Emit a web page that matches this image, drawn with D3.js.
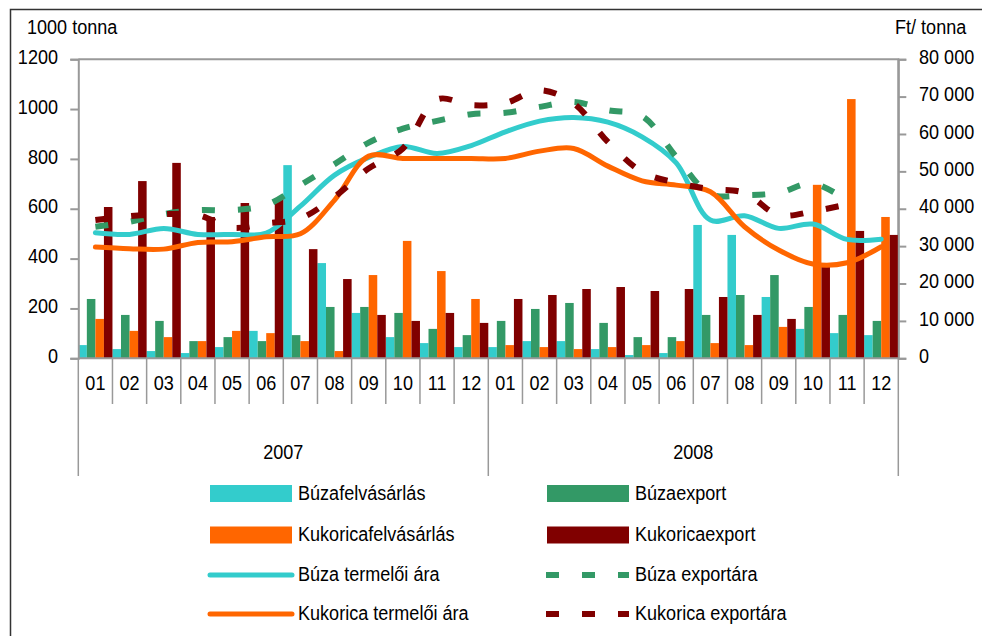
<!DOCTYPE html>
<html>
<head>
<meta charset="utf-8">
<script src="https://cdn.jsdelivr.net/npm/d3@7"></script>
<style>
  html, body { margin: 0; padding: 0; background: #fff; }
  svg { display: block; }
  text { font-family: "Liberation Sans", Arial, sans-serif; font-size: 21px; fill: #000; }
</style>
</head>
<body>
<svg id="chart" width="982" height="636"></svg>
<script>
// ---------- data ----------
const months = ["01","02","03","04","05","06","07","08","09","10","11","12"];
const years = ["2007","2008"];
const leftTicks = [0, 200, 400, 600, 800, 1000, 1200];
const rightTicks = [0, 10000, 20000, 30000, 40000, 50000, 60000, 70000, 80000];
const leftUnit = "1000 tonna";
const rightUnit = "Ft/ tonna";

// bars (1000 tonna)
const buzaFelvasarlas = [53,37,29,21,45,110,775,382,182,85,61,45, 45,69,69,37,13,21,535,495,246,118,101,93];
const buzaExport      = [238,174,150,69,85,69,93,206,206,182,118,93, 150,198,222,142,85,85,174,254,334,206,174,150];
const kukFelvasarlas  = [158,110,85,69,110,101,69,29,334,471,350,238, 53,45,37,45,53,69,61,53,126,696,1040,567];
const kukExport       = [607,711,784,567,623,639,438,318,174,150,182,142, 238,254,278,286,270,278,246,174,158,367,511,495];

// lines (Ft/tonna)
const buzaTermeloiAra = [33570,33140,34750,33140,33140,33500,40710,49000,53730,56670,54800,56900, 60570,63430,64420,63160,59240,52290,36970,38120,34750,35900,31810,31870];
const kukTermeloiAra  = [29750,29300,29200,31000,31180,32500,33300,42330,54080,53460,53460,53460, 53460,55410,56130,51400,47470,46320,44530,35180,28950,25210,25550,29830];
const buzaExportAra   = [35180,36510,38570,39640,39640,40980,46320,51930,57690,61430,63510,65300, 65650,67250,68590,66370,64800,53890,43920,43650,44260,46780,42130,null];
const kukExportAra    = [36970,38040,38570,38300,34910,36080,37420,43200,50790,56130,69230,67700, 68300,71710,68160,57900,49880,46940,45250,44260,38320,39290,41160,null];

const barSeries = [
  {name: "Búzafelvásárlás", values: buzaFelvasarlas, color: "#33CCCC"},
  {name: "Búzaexport", values: buzaExport, color: "#339966"},
  {name: "Kukoricafelvásárlás", values: kukFelvasarlas, color: "#FF6600"},
  {name: "Kukoricaexport", values: kukExport, color: "#800000"}
];
const lineSeries = [
  {name: "Búza termelői ára", values: buzaTermeloiAra, color: "#33CCCC", dashed: false},
  {name: "Búza exportára", values: buzaExportAra, color: "#339966", dashed: true},
  {name: "Kukorica termelői ára", values: kukTermeloiAra, color: "#FF6600", dashed: false},
  {name: "Kukorica exportára", values: kukExportAra, color: "#800000", dashed: true}
];
const legendOrder = [
  {s: barSeries[0], type: "bar"}, {s: barSeries[1], type: "bar"},
  {s: barSeries[2], type: "bar"}, {s: barSeries[3], type: "bar"},
  {s: lineSeries[0], type: "line"}, {s: lineSeries[1], type: "line"},
  {s: lineSeries[2], type: "line"}, {s: lineSeries[3], type: "line"}
];

// ---------- layout ----------
const SX = 0.86;             // horizontal condensing of the text
const plot = {left: 78.3, right: 898.3, top: 59.2, bottom: 358.3};
const AXIS = "#999999";
const DASH = "13,23";

const categories = [];
years.forEach(y => months.forEach(m => categories.push(y + "-" + m)));

const svg = d3.select("#chart");

function txt(g, x, y, s, anchor) {
  return g.append("text")
    .attr("transform", `translate(${x},${y}) scale(${SX},1)`)
    .attr("text-anchor", anchor || "start")
    .attr("dy", "0.35em")
    .text(s);
}

// outer border (only top and left visible in the frame)
svg.append("path")
  .attr("d", `M10.5,640 V9.5 H990`)
  .attr("fill", "none").attr("stroke", "#333").attr("stroke-width", 1.5);

const x = d3.scaleBand().domain(categories).range([plot.left, plot.right]).padding(0);
const xSub = d3.scaleBand().domain(barSeries.map(d => d.name)).range([0, x.bandwidth()]).padding(0);
const yL = d3.scaleLinear().domain([0, 1200]).range([plot.bottom, plot.top]);
const yR = d3.scaleLinear().domain([0, 80000]).range([plot.bottom, plot.top]);

// plot frame (top and right)
svg.append("path")
  .attr("d", `M${plot.left},${plot.top} H${plot.right} V${plot.bottom}`)
  .attr("fill", "none").attr("stroke", AXIS).attr("stroke-width", 2);

// bars
const gBars = svg.append("g");
barSeries.forEach(s => {
  gBars.selectAll(null).data(s.values).enter().append("rect")
    .attr("x", (d, i) => x(categories[i]) + xSub(s.name))
    .attr("width", xSub.bandwidth())
    .attr("y", d => yL(d))
    .attr("height", d => yL(0) - yL(d))
    .attr("fill", s.color);
});

// left axis
const axL = svg.append("g").attr("transform", `translate(${plot.left},0)`)
  .call(d3.axisLeft(yL).tickValues(leftTicks).tickSize(8).tickPadding(0).tickFormat(d3.format("d")));
axL.select(".domain").attr("stroke", AXIS).attr("stroke-width", 2);
axL.selectAll(".tick line").attr("stroke", AXIS).attr("stroke-width", 2);
axL.selectAll(".tick text")
  .attr("x", -20.3 / SX).attr("dy", "0.2em")
  .attr("transform", `scale(${SX},1)`)
  .attr("font-size", 21).attr("font-family", null).attr("fill", "#000");

// right axis
const spaceFmt = d => d3.format(",")(d).replace(/,/g, " ");
const axR = svg.append("g").attr("transform", `translate(${plot.right},0)`)
  .call(d3.axisRight(yR).tickValues(rightTicks).tickSize(8).tickPadding(0).tickFormat(spaceFmt));
axR.select(".domain").attr("stroke", AXIS).attr("stroke-width", 2);
axR.selectAll(".tick line").attr("stroke", AXIS).attr("stroke-width", 2);
axR.selectAll(".tick text")
  .attr("x", 20.7 / SX).attr("dy", "0.2em")
  .attr("transform", `scale(${SX},1)`)
  .attr("font-size", 21).attr("font-family", null).attr("fill", "#000");

// category axis
const gCat = svg.append("g");
gCat.append("line")
  .attr("x1", plot.left).attr("x2", plot.right)
  .attr("y1", plot.bottom).attr("y2", plot.bottom)
  .attr("stroke", AXIS).attr("stroke-width", 2);
for (let i = 0; i <= categories.length; i++) {
  const xx = i < categories.length ? x(categories[i]) : plot.right;
  const isYear = i % months.length === 0;
  gCat.append("line")
    .attr("x1", xx).attr("x2", xx)
    .attr("y1", plot.bottom).attr("y2", isYear ? 476 : 404)
    .attr("stroke", AXIS).attr("stroke-width", 1.5);
}
categories.forEach((c, i) => {
  txt(gCat, x(c) + x.bandwidth() / 2, 383, months[i % months.length], "middle");
});
years.forEach((yv, j) => {
  const x0 = x(categories[j * months.length]);
  const x1 = x(categories[(j + 1) * months.length - 1]) + x.bandwidth();
  txt(gCat, (x0 + x1) / 2, 452, yv, "middle");
});

// lines
const gLines = svg.append("g");
lineSeries.forEach(s => {
  const line = d3.line()
    .defined(d => d != null)
    .x((d, i) => x(categories[i]) + x.bandwidth() / 2)
    .y(d => yR(d))
    .curve(d3.curveCatmullRom.alpha(0.5));
  gLines.append("path")
    .attr("d", line(s.values))
    .attr("fill", "none")
    .attr("stroke", s.color)
    .attr("stroke-width", s.dashed ? 6 : 5)
    .attr("stroke-linecap", s.dashed ? "butt" : "round")
    .attr("stroke-linejoin", "round")
    .attr("stroke-dasharray", s.dashed ? DASH : null);
});

// unit labels
txt(svg, 27, 27, leftUnit, "start");
txt(svg, 895, 27, rightUnit, "start");

// legend
const gLeg = svg.append("g");
const colX = [210, 547];
const rowY = [493.5, 535, 575, 614];
legendOrder.forEach((item, k) => {
  const cx = colX[k % 2];
  const cy = rowY[Math.floor(k / 2)];
  if (item.type === "bar") {
    gLeg.append("rect").attr("x", cx).attr("y", cy - 8.5).attr("width", 82).attr("height", 17)
      .attr("fill", item.s.color);
  } else if (!item.s.dashed) {
    gLeg.append("line").attr("x1", cx).attr("x2", cx + 82).attr("y1", cy).attr("y2", cy)
      .attr("stroke", item.s.color).attr("stroke-width", 5).attr("stroke-linecap", "round");
  } else {
    gLeg.append("line").attr("x1", cx - 1).attr("x2", cx + 82).attr("y1", cy).attr("y2", cy)
      .attr("stroke", item.s.color).attr("stroke-width", 6).attr("stroke-dasharray", DASH);
  }
  txt(gLeg, cx + 88, cy - 1, item.s.name, "start");
});
</script>
</body>
</html>
